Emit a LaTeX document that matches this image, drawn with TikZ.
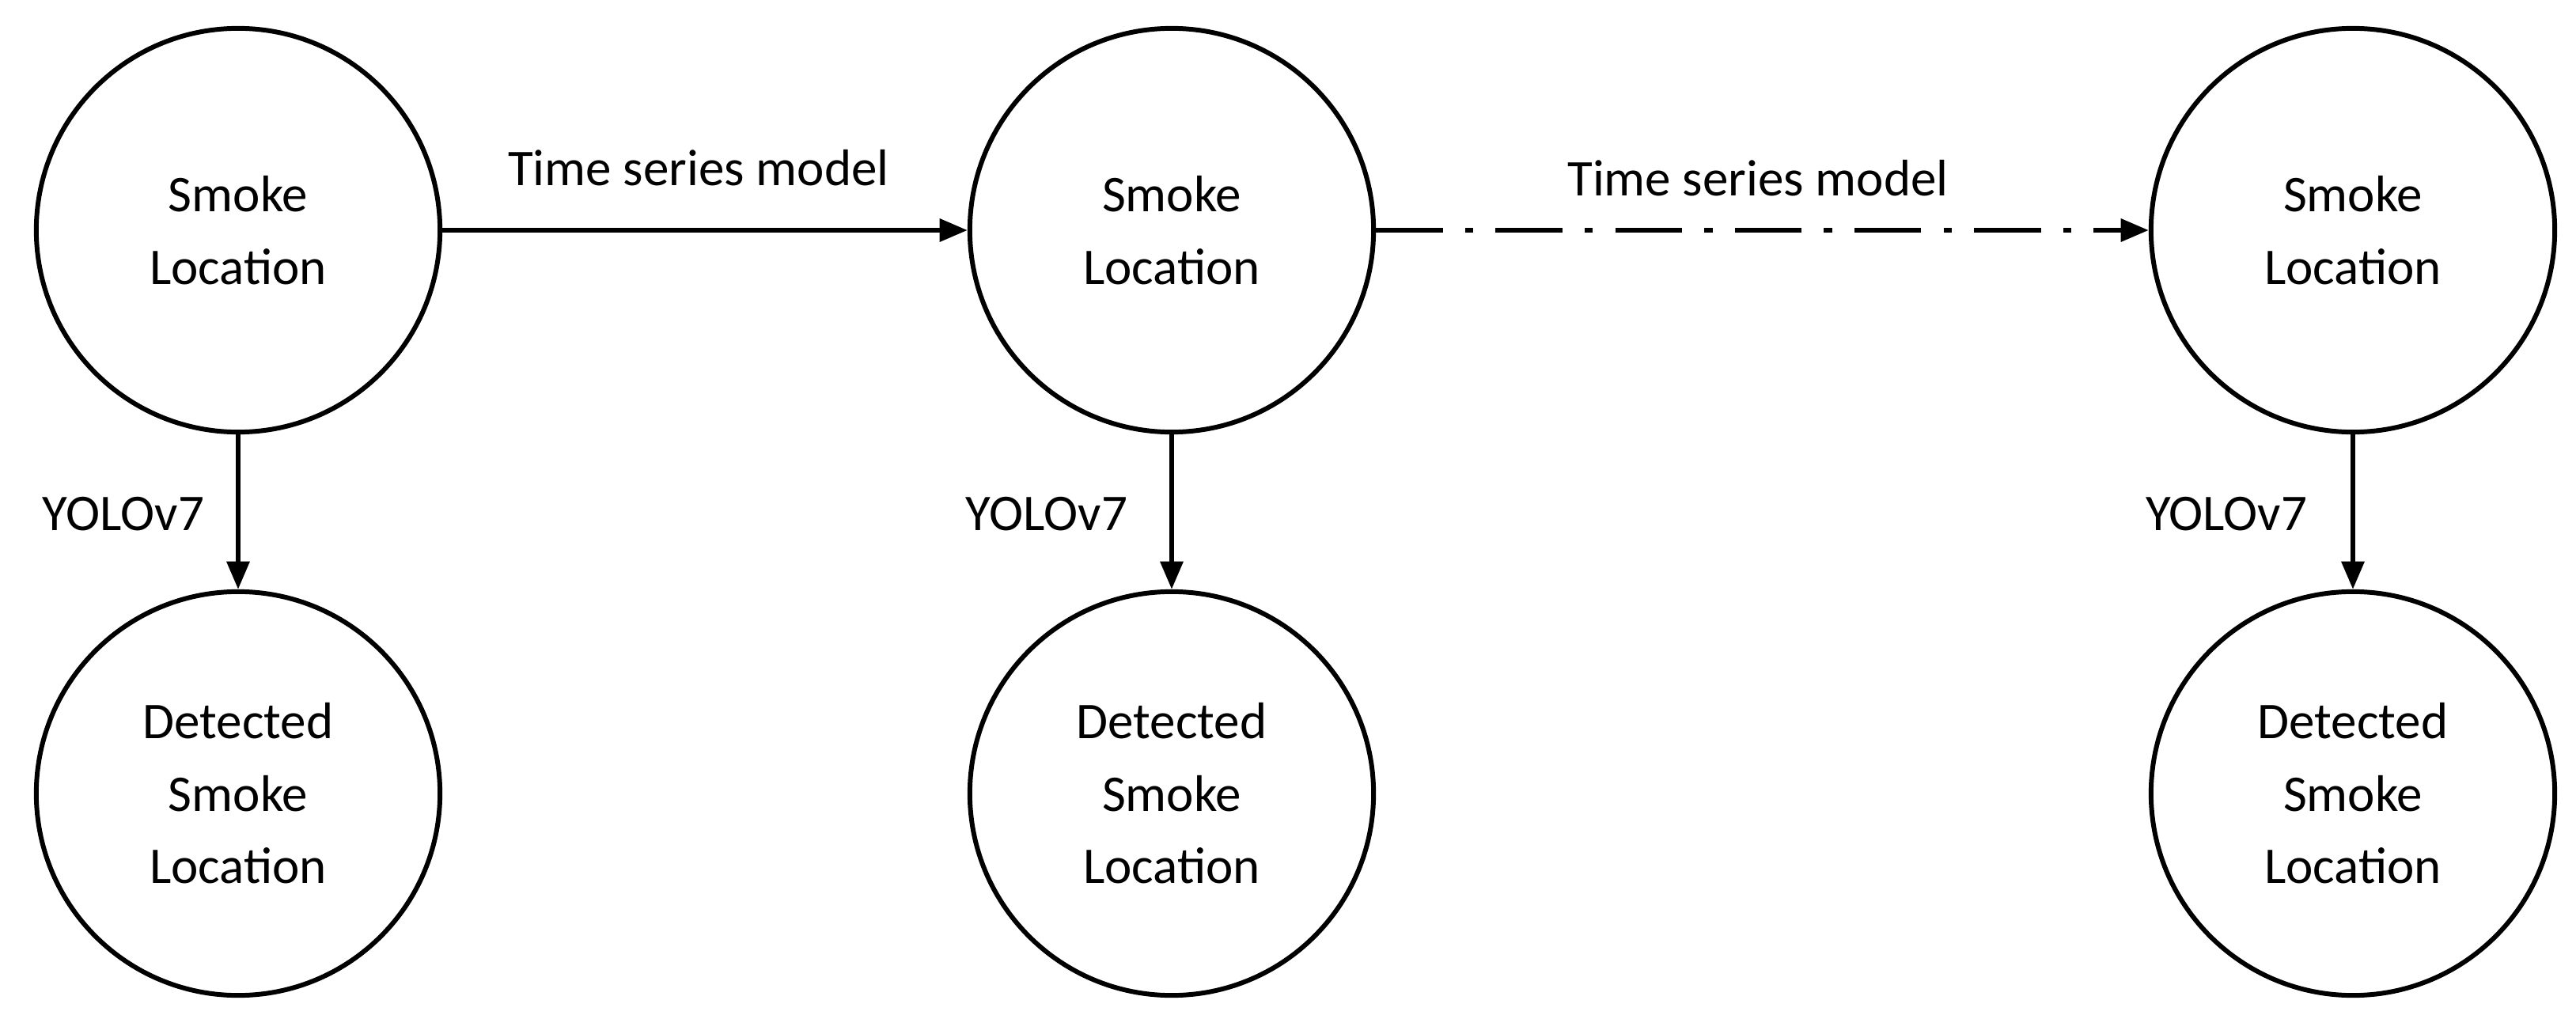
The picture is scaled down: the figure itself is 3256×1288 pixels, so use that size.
\documentclass[tikz,border=0pt]{standalone}
\usepackage{fontspec}
\setmainfont{Carlito}
\usetikzlibrary{arrows.meta}
\begin{document}
\begin{tikzpicture}[x=0.01cm,y=-0.01cm,
  circ/.style={circle,draw,line width=1.7pt,minimum size=5.1cm,inner sep=0pt,align=center,font=\fontsize{18.5}{26}\selectfont},
  arr/.style={line width=1.7pt,-{Triangle[length=10pt,width=8pt]}},
  lab/.style={font=\fontsize{18.5}{26}\selectfont}]
\useasboundingbox (0,0) rectangle (3256,1288);
\node[circ] (s1) at (301,291) {Smoke\\Location};
\node[circ] (s2) at (1481,291) {Smoke\\Location};
\node[circ] (s3) at (2974,291) {Smoke\\Location};
\node[circ] (d1) at (301,1003) {Detected\\Smoke\\Location};
\node[circ] (d2) at (1481,1003) {Detected\\Smoke\\Location};
\node[circ] (d3) at (2974,1003) {Detected\\Smoke\\Location};
\draw[arr] (s1) -- (s2);
\draw[arr,dash pattern=on 24pt off 8pt on 3pt off 8pt] (s2) -- (s3);
\draw[arr] (s1) -- (d1);
\draw[arr] (s2) -- (d2);
\draw[arr] (s3) -- (d3);
\node[lab] (t1) at (883,212) {Time series model};
\node[lab] (t2) at (2222,225) {Time series model};
\node[lab] (y1) at (156,650) {YOLOv7};
\node[lab] (y2) at (1323,650) {YOLOv7};
\node[lab] (y3) at (2814,650) {YOLOv7};
\end{tikzpicture}
\end{document}
